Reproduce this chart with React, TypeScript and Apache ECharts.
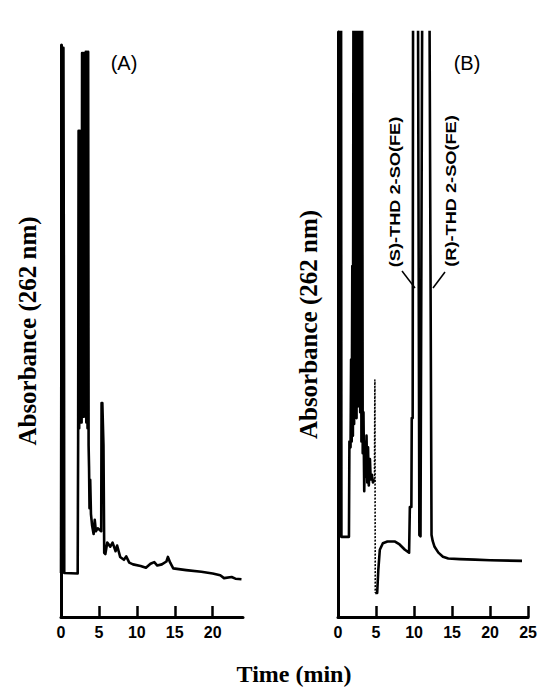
import React, { useEffect, useRef } from "react";
import * as echarts from "echarts";

// ---- data (time in min, absorbance in arbitrary units 0-100 of panel height) ----
const xTicksA = [0, 5, 10, 15, 20];
const xTicksB = [0, 5, 10, 15, 20, 25];
const yTitle = "Absorbance (262 nm)";
const xTitle = "Time (min)";
const panelLabels = ["(A)", "(B)"];
const peakLabels = ["(S)-THD 2-SO(FE)", "(R)-THD 2-SO(FE)"];

const traceA: number[][] = [
  [0, 7.7], [0.08, 7.7], [0.1, 99.5], [0.32, 99.5], [0.4, 45], [0.43, 7.7],
  [2.2, 7.6], [2.24, 7.7], [2.26, 31], [2.32, 85], [2.4, 33], [2.48, 85],
  [2.56, 34], [2.64, 85], [2.72, 34], [2.78, 98.6], [2.86, 35], [2.94, 98.6],
  [3.02, 35], [3.1, 98.6], [3.16, 36], [3.26, 98.8], [3.34, 34], [3.42, 98.8],
  [3.5, 33], [3.58, 98.8], [3.64, 30], [3.7, 26], [3.76, 19], [3.85, 24],
  [3.95, 18], [4.1, 16], [4.3, 14.5], [4.45, 17], [4.6, 15], [4.85, 15.5],
  [5.3, 15], [5.35, 37.4], [5.45, 37.4], [5.6, 30], [5.7, 11.2], [5.85, 11],
  [6.1, 13], [6.5, 12.3], [6.8, 13], [7.2, 11.5], [7.4, 12.5], [7.8, 10.5],
  [8.3, 10], [8.6, 10.6], [9.0, 9.5], [9.5, 9.2], [10.5, 8.9], [11.2, 8.6],
  [11.8, 9.3], [12.3, 9.6], [12.7, 9.0], [13.3, 9.2], [13.9, 9.7], [14.1, 10.5],
  [14.4, 9.5], [14.8, 8.5], [16.5, 8.2], [18.5, 7.9], [20, 7.6], [21, 7.3],
  [21.5, 6.8], [22.5, 7.0], [23.0, 6.7], [23.8, 6.6],
];

const traceB1: number[][] = [
  [0, 13.7], [0.15, 13.7], [0.2, 115], [0.4, 115], [0.45, 13.7], [1.44, 13.7],
  [1.5, 30], [1.65, 29], [1.72, 44], [1.8, 30], [1.88, 60], [1.96, 31],
  [2.04, 115], [2.12, 33], [2.2, 115], [2.28, 35], [2.36, 115], [2.44, 34],
  [2.52, 115], [2.6, 36], [2.68, 115], [2.76, 38], [2.84, 115], [2.92, 35],
  [3.0, 115], [3.08, 30], [3.16, 115], [3.25, 28], [3.35, 35], [3.45, 21.5],
  [3.55, 30], [3.65, 24], [3.75, 31], [3.85, 23], [3.95, 29], [4.05, 22.5],
  [4.2, 27], [4.3, 23.5], [4.45, 24.3], [4.6, 23], [4.8, 23.5],
];

const traceBSpike: number[][] = [[4.8, 23.5], [4.85, 40.5], [4.9, 4.1]];

const traceB2: number[][] = [
  [4.9, 4.1], [5.15, 4.1], [5.3, 8], [5.5, 11.5], [5.9, 12.6], [6.5, 12.9],
  [7.5, 12.9], [8.1, 12.4], [8.8, 11.5], [9.35, 11.0], [9.45, 18.8], [9.65, 18.8],
  [9.7, 34], [9.82, 34], [9.88, 115], [10.5, 115], [10.7, 14], [10.85, 13.8],
  [11.1, 115], [12.0, 115], [12.3, 14], [12.45, 13], [12.7, 12], [13.2, 11],
  [13.8, 10.3], [14.5, 10], [16, 9.9], [18, 9.8], [20, 9.7], [24.2, 9.6],
];

const BLACK = "#000";

function xAxisCfg(gridIndex: number, max: number, ticks: number[]) {
  return {
    gridIndex,
    type: "value",
    min: 0,
    max,
    axisLine: { show: true, lineStyle: { color: BLACK, width: 3 } },
    axisTick: {
      show: true,
      inside: true,
      length: 11,
      customValues: ticks,
      lineStyle: { color: BLACK, width: 2.5 },
    },
    axisLabel: {
      show: true,
      customValues: ticks,
      color: BLACK,
      fontWeight: "bold",
      fontSize: 16,
      fontFamily: "Liberation Sans",
      margin: 7,
    },
    splitLine: { show: false },
  };
}

function yAxisCfg(gridIndex: number, gap: number) {
  return {
    gridIndex,
    type: "value",
    min: 0,
    max: 100,
    axisLine: { show: true, lineStyle: { color: BLACK, width: 3 } },
    axisTick: { show: false },
    axisLabel: { show: false },
    splitLine: { show: false },
    name: yTitle,
    nameLocation: "middle",
    nameGap: gap,
    nameTextStyle: {
      fontFamily: "Liberation Serif",
      fontWeight: "bold",
      fontSize: 25,
      color: BLACK,
    },
  };
}

function lineSeries(data: number[][], idx: number, dashed = false) {
  return {
    type: "line",
    xAxisIndex: idx,
    yAxisIndex: idx,
    data,
    showSymbol: false,
    symbol: "none",
    clip: true,
    lineStyle: {
      color: BLACK,
      width: dashed ? 1.6 : 2.6,
      type: dashed ? [2, 1.5] : "solid",
      join: "round",
    },
    z: 3,
  };
}

export default function App() {
  const ref = useRef<HTMLDivElement>(null);
  useEffect(() => {
    if (!ref.current) return;
    const chart = echarts.init(ref.current, undefined, { renderer: "svg" });
    const peakFont = {
      fontFamily: "Liberation Sans",
      fontWeight: "bold",
      fontSize: 14,
      fill: BLACK,
      textAlign: "center",
      textVerticalAlign: "middle",
    };
    const panelFont = {
      fontFamily: "Liberation Sans",
      fontSize: 20,
      fill: BLACK,
      textAlign: "center",
      textVerticalAlign: "middle",
    };
    chart.setOption({
      animation: false,
      backgroundColor: "#fff",
      grid: [
        { left: 61, top: 45, width: 182, height: 572 },
        { left: 338, top: 32, width: 191, height: 585 },
      ],
      xAxis: [xAxisCfg(0, 24, xTicksA), xAxisCfg(1, 25, xTicksB)],
      yAxis: [yAxisCfg(0, 21), yAxisCfg(1, 17)],
      series: [
        lineSeries(traceA, 0),
        lineSeries(traceB1, 1),
        lineSeries(traceBSpike, 1, true),
        lineSeries(traceB2, 1),
      ],
      graphic: [
        { type: "text", x: 124, y: 63, style: { ...panelFont, text: panelLabels[0] } },
        { type: "text", x: 467, y: 63, style: { ...panelFont, text: panelLabels[1] } },
        {
          type: "text",
          x: 395,
          y: 192,
          rotation: Math.PI / 2,
          scaleX: 1.3,
          style: { ...peakFont, text: peakLabels[0] },
        },
        {
          type: "text",
          x: 451,
          y: 191,
          rotation: Math.PI / 2,
          scaleX: 1.3,
          style: { ...peakFont, text: peakLabels[1] },
        },
        {
          type: "line",
          shape: { x1: 402, y1: 271, x2: 415, y2: 288 },
          style: { stroke: BLACK, lineWidth: 1.5 },
        },
        {
          type: "line",
          shape: { x1: 445, y1: 272, x2: 433, y2: 288 },
          style: { stroke: BLACK, lineWidth: 1.5 },
        },
        {
          type: "text",
          x: 294,
          y: 674,
          style: {
            text: xTitle,
            fontFamily: "Liberation Serif",
            fontWeight: "bold",
            fontSize: 24,
            fill: BLACK,
            textAlign: "center",
            textVerticalAlign: "middle",
          },
        },
      ],
    });
    return () => chart.dispose();
  }, []);
  return (
    <div
      ref={ref}
      style={{ position: "fixed", left: 0, top: 0, width: 540, height: 689 }}
    />
  );
}
